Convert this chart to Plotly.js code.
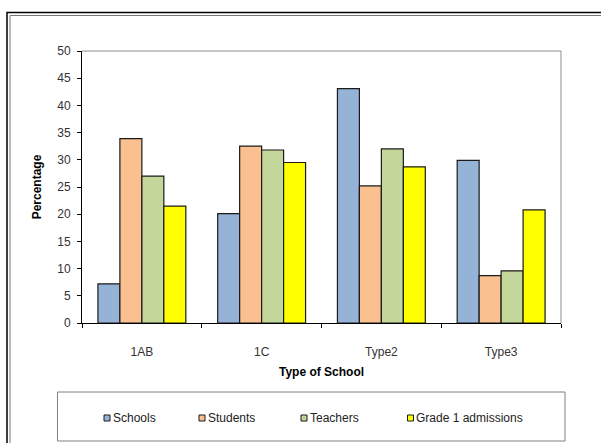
<!DOCTYPE html>
<html>
<head>
<meta charset="utf-8">
<script src="https://cdn.plot.ly/plotly-3.0.1.min.js"></script>
<style>
  html, body { margin: 0; padding: 0; background: #ffffff; }
  #chart { width: 601px; height: 443px; }
</style>
</head>
<body>
<div id="chart"></div>
<script>
// ---- data ----
var categories = ["1AB", "1C", "Type2", "Type3"];
var seriesNames = ["Schools", "Students", "Teachers", "Grade 1 admissions"];
var schools = [7.2, 20.1, 43.1, 29.9];
var students = [33.9, 32.5, 25.2, 8.7];
var teachers = [27.0, 31.8, 32.0, 9.6];
var grade1 = [21.5, 29.5, 28.7, 20.8];
var yTickValues = [0, 5, 10, 15, 20, 25, 30, 35, 40, 45, 50];

// ---- styling ----
var colors = ["#95B3D7", "#FAC090", "#C4D79B", "#FFFF00"];
var seriesValues = [schools, students, teachers, grade1];
var FONT = "Liberation Sans, Arial, sans-serif";

// geometry helpers (pixel -> paper)
var W = 601, H = 443;
var M = { l: 82, r: 40, t: 51, b: 120 };
var PW = W - M.l - M.r, PH = H - M.t - M.b;
function px(x) { return (x - M.l) / PW; }
function py(y) { return (H - M.b - y) / PH; }

var traces = seriesNames.map(function (name, i) {
  return {
    type: "bar",
    name: name,
    x: categories,
    y: seriesValues[i],
    marker: { color: colors[i], line: { color: "#1a1a1a", width: 1.2 } },
    showlegend: false,
    hoverinfo: "x+y+name"
  };
});

var shapes = [
  // outer double frame
  { type: "rect", xref: "paper", yref: "paper", x0: px(7), x1: px(700), y0: py(600), y1: py(12.5),
    line: { color: "#000000", width: 1.5 }, fillcolor: "rgba(0,0,0,0)", layer: "below" },
  { type: "rect", xref: "paper", yref: "paper", x0: px(10), x1: px(700), y0: py(600), y1: py(15.5),
    line: { color: "#777777", width: 1 }, fillcolor: "rgba(0,0,0,0)", layer: "below" },
  // plot area gray top/right border
  { type: "line", xref: "paper", yref: "paper", x0: 0, x1: 1, y0: 1, y1: 1,
    line: { color: "#8c8c8c", width: 1 } },
  { type: "line", xref: "paper", yref: "paper", x0: 1, x1: 1, y0: 0, y1: 1,
    line: { color: "#8c8c8c", width: 1 } },
  // legend box
  { type: "rect", xref: "paper", yref: "paper", x0: px(57.5), x1: px(565), y0: py(441), y1: py(392),
    line: { color: "#808080", width: 1 }, fillcolor: "rgba(0,0,0,0)" }
];

var annotations = [];
var legendMarkerX = [107, 202, 304, 410.5];
var legendY = 418;
seriesNames.forEach(function (name, i) {
  var cx = legendMarkerX[i];
  shapes.push({ type: "rect", xref: "paper", yref: "paper",
    x0: px(cx - 3), x1: px(cx + 3), y0: py(legendY + 3), y1: py(legendY - 3),
    line: { color: "#1a1a1a", width: 1 }, fillcolor: colors[i] });
  annotations.push({ xref: "paper", yref: "paper", x: px(cx + 3.5), y: py(legendY),
    xanchor: "left", yanchor: "middle", showarrow: false, text: name,
    font: { family: FONT, size: 12, color: "#222222" } });
});

var layout = {
  width: W, height: H,
  margin: M,
  paper_bgcolor: "#ffffff",
  plot_bgcolor: "#ffffff",
  barmode: "group",
  bargap: 0.266,
  bargroupgap: 0,
  showlegend: false,
  font: { family: FONT, size: 12, color: "#222222" },
  xaxis: {
    type: "category",
    showline: true, linecolor: "#000000", linewidth: 1,
    ticks: "outside", tickson: "boundaries", ticklen: 4, tickcolor: "#000000",
    ticklabelstandoff: 18,
    tickfont: { family: FONT, size: 12, color: "#333333" },
    showgrid: false, zeroline: false,
    title: { text: "Type of School", font: { family: FONT, size: 12, color: "#000000", weight: "bold" }, standoff: 9 }
  },
  yaxis: {
    range: [0, 50],
    tickvals: yTickValues,
    showline: true, linecolor: "#000000", linewidth: 1,
    ticks: "outside", ticklen: 4, tickcolor: "#000000",
    ticklabelstandoff: 4,
    tickfont: { family: FONT, size: 12, color: "#333333" },
    showgrid: false, zeroline: false,
    title: { text: "Percentage", font: { family: FONT, size: 12, color: "#000000", weight: "bold" }, standoff: 13 }
  },
  shapes: shapes,
  annotations: annotations
};

Plotly.newPlot("chart", traces, layout, { staticPlot: true, displayModeBar: false });
</script>
</body>
</html>
